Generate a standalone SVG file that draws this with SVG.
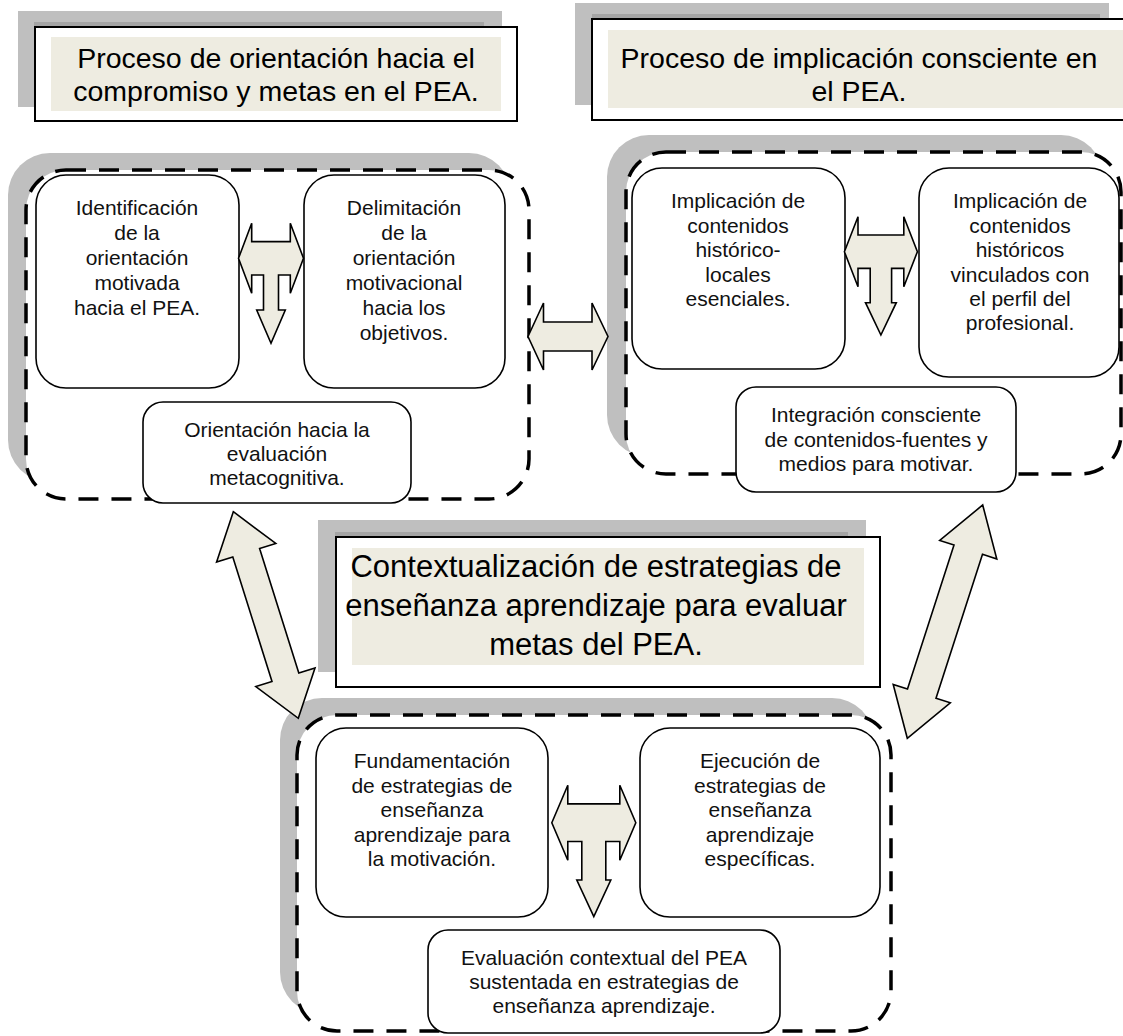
<svg xmlns="http://www.w3.org/2000/svg" width="1123" height="1036" viewBox="0 0 1123 1036">
<style>
.shadow{fill:#BFBFBF}
.strip{fill:#A5A5A5}
.tbox{fill:#FFFFFF;stroke:#000;stroke-width:2}
.beige{fill:#EEECE1}
.ttl{font-family:"Liberation Sans",Arial,sans-serif;font-size:28.5px;fill:#000;text-anchor:middle}
.ttl3{font-family:"Liberation Sans",Arial,sans-serif;font-size:31px;fill:#000;text-anchor:middle}
.cshadow{fill:#BFBFBF}
.cont{fill:#FFFFFF;stroke:#000;stroke-width:3.5;stroke-dasharray:20 13}
.node{fill:#FFFFFF;stroke:#000;stroke-width:1.6}
.lbl{font-family:"Liberation Sans",Arial,sans-serif;font-size:21px;fill:#111;text-anchor:middle}
.arr{fill:#EEECE1;stroke:#000;stroke-width:1.6;stroke-linejoin:miter}
</style>
<rect width="1123" height="1036" fill="#FFFFFF"/>

<!-- Title 1 -->
<g id="title1">
<rect class="shadow" x="18" y="11" width="484" height="96"/>
<rect class="strip" x="34" y="22" width="450" height="5"/>
<rect class="tbox" x="35" y="27" width="482" height="94"/>
<rect class="beige" x="51" y="37" width="450" height="74"/>
<text class="ttl" x="276" y="68">Proceso de orientación hacia el</text>
<text class="ttl" x="276" y="101">compromiso y metas en el PEA.</text>
</g>

<!-- Title 2 -->
<g id="title2">
<rect class="shadow" x="575" y="3" width="534" height="102"/>
<rect class="strip" x="592" y="14" width="508" height="5"/>
<rect class="tbox" x="592" y="19" width="532" height="101"/>
<rect class="beige" x="608" y="30" width="515" height="78"/>
<text class="ttl" x="859" y="68">Proceso de implicación consciente en</text>
<text class="ttl" x="859" y="101">el PEA.</text>
</g>

<!-- Title 3 -->
<g id="title3">
<rect class="shadow" x="318" y="520" width="548" height="152"/>
<rect class="strip" x="335" y="532" width="513" height="5"/>
<rect class="tbox" x="336" y="537" width="544" height="150"/>
<rect class="beige" x="352" y="548" width="512" height="117"/>
<text class="ttl3" x="596" y="577">Contextualización de estrategias de</text>
<text class="ttl3" x="596" y="616">enseñanza aprendizaje para evaluar</text>
<text class="ttl3" x="596" y="655">metas del PEA.</text>
</g>

<!-- Container 1 -->
<g id="container1">
<rect class="cshadow" x="8" y="153" width="503" height="329" rx="42"/>
<rect class="cont" x="26" y="170" width="503" height="329" rx="40"/>
</g>
<!-- Container 2 -->
<g id="container2">
<rect class="cshadow" x="607" y="135" width="496" height="322" rx="42"/>
<rect class="cont" x="626" y="152" width="495" height="322" rx="40"/>
</g>
<!-- Container 3 -->
<g id="container3">
<rect class="cshadow" x="280" y="698" width="594" height="316" rx="42"/>
<rect class="cont" x="297" y="715" width="594" height="316" rx="40"/>
</g>

<!-- Nodes -->
<g id="n1">
<rect class="node" x="36" y="175" width="203" height="213" rx="30"/>
<text class="lbl" x="137" y="215">Identificación</text>
<text class="lbl" x="137" y="240">de la</text>
<text class="lbl" x="137" y="265">orientación</text>
<text class="lbl" x="137" y="290">motivada</text>
<text class="lbl" x="137" y="315">hacia el PEA.</text>
</g>
<g id="n2">
<rect class="node" x="304" y="175" width="201" height="213" rx="30"/>
<text class="lbl" x="404" y="215">Delimitación</text>
<text class="lbl" x="404" y="240">de la</text>
<text class="lbl" x="404" y="265">orientación</text>
<text class="lbl" x="404" y="290">motivacional</text>
<text class="lbl" x="404" y="315">hacia los</text>
<text class="lbl" x="404" y="340">objetivos.</text>
</g>
<g id="n3">
<rect class="node" x="143" y="402" width="268" height="101" rx="20"/>
<text class="lbl" x="277" y="437">Orientación hacia la</text>
<text class="lbl" x="277" y="461">evaluación</text>
<text class="lbl" x="277" y="485">metacognitiva.</text>
</g>
<g id="n4">
<rect class="node" x="632" y="168" width="213" height="201" rx="30"/>
<text class="lbl" x="738" y="208">Implicación de</text>
<text class="lbl" x="738" y="233">contenidos</text>
<text class="lbl" x="738" y="257">histórico-</text>
<text class="lbl" x="738" y="282">locales</text>
<text class="lbl" x="738" y="306">esenciales.</text>
</g>
<g id="n5">
<rect class="node" x="919" y="168" width="200" height="209" rx="30"/>
<text class="lbl" x="1020" y="208">Implicación de</text>
<text class="lbl" x="1020" y="233">contenidos</text>
<text class="lbl" x="1020" y="257">históricos</text>
<text class="lbl" x="1020" y="282">vinculados con</text>
<text class="lbl" x="1020" y="306">el perfil del</text>
<text class="lbl" x="1020" y="330">profesional.</text>
</g>
<g id="n6">
<rect class="node" x="736" y="387" width="280" height="105" rx="20"/>
<text class="lbl" x="876" y="422">Integración consciente</text>
<text class="lbl" x="876" y="447">de contenidos-fuentes y</text>
<text class="lbl" x="876" y="471">medios para motivar.</text>
</g>
<g id="n7">
<rect class="node" x="316" y="728" width="232" height="189" rx="30"/>
<text class="lbl" x="432" y="768">Fundamentación</text>
<text class="lbl" x="432" y="793">de estrategias de</text>
<text class="lbl" x="432" y="817">enseñanza</text>
<text class="lbl" x="432" y="842">aprendizaje para</text>
<text class="lbl" x="432" y="866">la motivación.</text>
</g>
<g id="n8">
<rect class="node" x="640" y="728" width="240" height="189" rx="30"/>
<text class="lbl" x="760" y="768">Ejecución de</text>
<text class="lbl" x="760" y="793">estrategias de</text>
<text class="lbl" x="760" y="817">enseñanza</text>
<text class="lbl" x="760" y="842">aprendizaje</text>
<text class="lbl" x="760" y="866">específicas.</text>
</g>
<g id="n9">
<rect class="node" x="428" y="930" width="352" height="103" rx="20"/>
<text class="lbl" x="604" y="965">Evaluación contextual del PEA</text>
<text class="lbl" x="604" y="989">sustentada en estrategias de</text>
<text class="lbl" x="604" y="1013">enseñanza aprendizaje.</text>
</g>

<!-- Connectors -->
<g id="connectors">
<path class="arr" d="M238.5,258.3 L251.7,223.3 L251.7,241.6 L290.3,241.6 L290.3,223.3 L303.5,258.3 L290.3,293.3 L290.3,275 L278.5,275 L278.5,310 L285.3,310 L271,343.3 L256.7,310 L263.5,310 L263.5,275 L251.7,275 L251.7,293.3 Z"/>
<path class="arr" d="M844.4,251.7 L858,216.7 L858,235 L903.8,235 L903.8,216.7 L917.4,251.7 L903.8,286.7 L903.8,268.4 L891.6,268.4 L891.6,302.7 L896.3,302.7 L880.9,335 L865.5,302.7 L870.2,302.7 L870.2,268.4 L858,268.4 L858,286.7 Z"/>
<path class="arr" d="M551.8,822.7 L567.8,785.2 L567.8,803.9 L619.8,803.9 L619.8,785.2 L635.8,822.7 L619.8,860.2 L619.8,841.5 L605.8,841.5 L605.8,880 L610.8,880 L593.8,916.7 L576.8,880 L581.8,880 L581.8,841.5 L567.8,841.5 L567.8,860.2 Z"/>
<path class="arr" d="M528,336.5 L543.5,303 L543.5,322 L592,322 L592,303 L608,336.5 L592,370 L592,351 L543.5,351 L543.5,370 Z"/>
<path class="arr" d="M233.3,511.7 L275.8,543.4 L259.6,548.5 L298.8,673.1 L315,668 L298.3,718.3 L255.8,686.6 L272,681.5 L232.8,556.9 L216.6,562 Z"/>
<path class="arr" d="M982.7,505 L996.8,559 L982.5,554.3 L936,698.2 L950.3,702.8 L907.3,738.3 L893.2,684.4 L907.5,689 L954,545.1 L939.7,540.5 Z"/>
</g>
</svg>
